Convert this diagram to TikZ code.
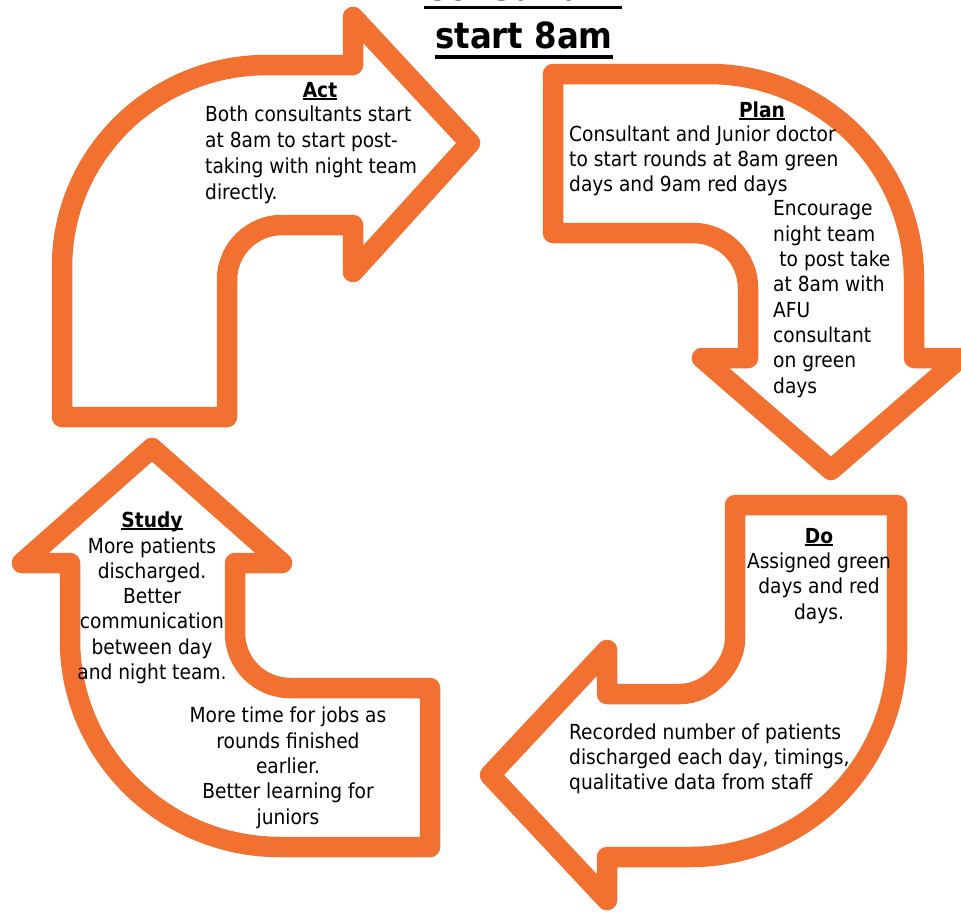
\documentclass[tikz,border=0pt]{standalone}
\usepackage{fontspec}
\setmainfont{DejaVu Sans Condensed}
\definecolor{arr}{RGB}{242,112,48}
\newcommand{\myul}[3]{\setbox0=\hbox{#3}\rlap{\rule[-#1]{\wd0}{#2}}\box0}
\begin{document}
\begin{tikzpicture}[x=1pt,y=-1pt,
  arrowshape/.style={draw=arr, line width=20.5pt, line join=round, fill=white},
  bt/.style={inner sep=0pt, font=\fontsize{20.7}{25.3}\selectfont},
  hd/.style={inner sep=0pt, font=\fontsize{20.7}{25.3}\selectfont\bfseries, anchor=base},
  ttl/.style={inner sep=0pt, font=\fontsize{36}{50}\selectfont\bfseries, anchor=base}]
\useasboundingbox (0,0) rectangle (961,913);
% Act arrow (top left)
\draw[arrowshape] (62,417) -- (62,267) .. controls (62,155.4) and (153.8,65) .. (267,65)
  -- (353,65) -- (353,17) -- (470,143) -- (353,272) -- (353,225) -- (282,225)
  .. controls (251.6,225) and (227,249.6) .. (227,280) -- (227,417) -- cycle;
% Plan arrow (top right)
\draw[arrowshape] (553,74) -- (709,74) .. controls (822.2,74) and (914,165.8) .. (914,279)
  -- (914,358) -- (960,358) -- (831,470) -- (702,358) -- (748,358) -- (748,288)
  .. controls (748,257.6) and (723.4,233) .. (693,233) -- (553,233) -- cycle;
% Do arrow (bottom right)
\draw[arrowshape] (735,505) -- (897,505) -- (897,650) .. controls (897,764.3) and (804.3,857) .. (690,857)
  -- (607,857) -- (607,900) -- (490,775) -- (607,650) -- (607,694) -- (680,694)
  .. controls (710.4,694) and (735,663.6) .. (735,639) -- cycle;
% Study arrow (bottom left)
\draw[arrowshape] (70,563) -- (70,640) .. controls (70,754.3) and (164,847) .. (280,847)
  -- (430,847) -- (430,688) -- (290,688) .. controls (259.6,688) and (235,663.4) .. (235,633)
  -- (235,563) -- (282,563) -- (152,448) -- (22,563) -- cycle;
% Title
\node[ttl] (t1) at (523,0.5) {\myul{8.5pt}{3.5pt}{Consultant}};
\node[ttl] (t2) at (524,48) {\myul{10.5pt}{3.5pt}{start 8am}};
% Act
\node[hd] (acth) at (320,97) {\myul{2.8pt}{1.5pt}{Act}};
\node[bt, anchor=base west, align=left, font=\fontsize{20.7}{26}\selectfont] (actb) at (205,199)
  {Both consultants start\\at 8am to start post-\\taking with night team\\directly.};
% Plan
\node[hd] (planh) at (762,117) {\myul{2.8pt}{1.5pt}{Plan}};
\node[bt, anchor=base west, align=left] (planb) at (569,191.6)
  {Consultant and Junior doctor\\to start rounds at 8am green\\days and 9am red days};
\node[bt, anchor=base west, align=left] (planc) at (773,393)
  {Encourage\\night team\\\hspace*{0.3em}to post take\\at 8am with\\AFU\\consultant\\on green\\days};
% Do
\node[hd] (doh) at (819,543) {\myul{2.8pt}{1.5pt}{Do}};
\node[bt, anchor=base, align=center] (dob) at (819,619)
  {Assigned green\\days and red\\days.};
\node[bt, anchor=base west, align=left] (doc) at (569,789.6)
  {Recorded number of patients\\discharged each day, timings,\\qualitative data from staff};
% Study
\node[hd] (sth) at (152,527) {\myul{2.8pt}{1.5pt}{Study}};
\node[bt, anchor=base, align=center] (stb) at (152,679.5)
  {More patients\\discharged.\\Better\\communication\\between day\\and night team.};
\node[bt, anchor=base, align=center] (stc) at (288,824)
  {More time for jobs as\\rounds finished\\earlier.\\Better learning for\\juniors};
\end{tikzpicture}
\end{document}
